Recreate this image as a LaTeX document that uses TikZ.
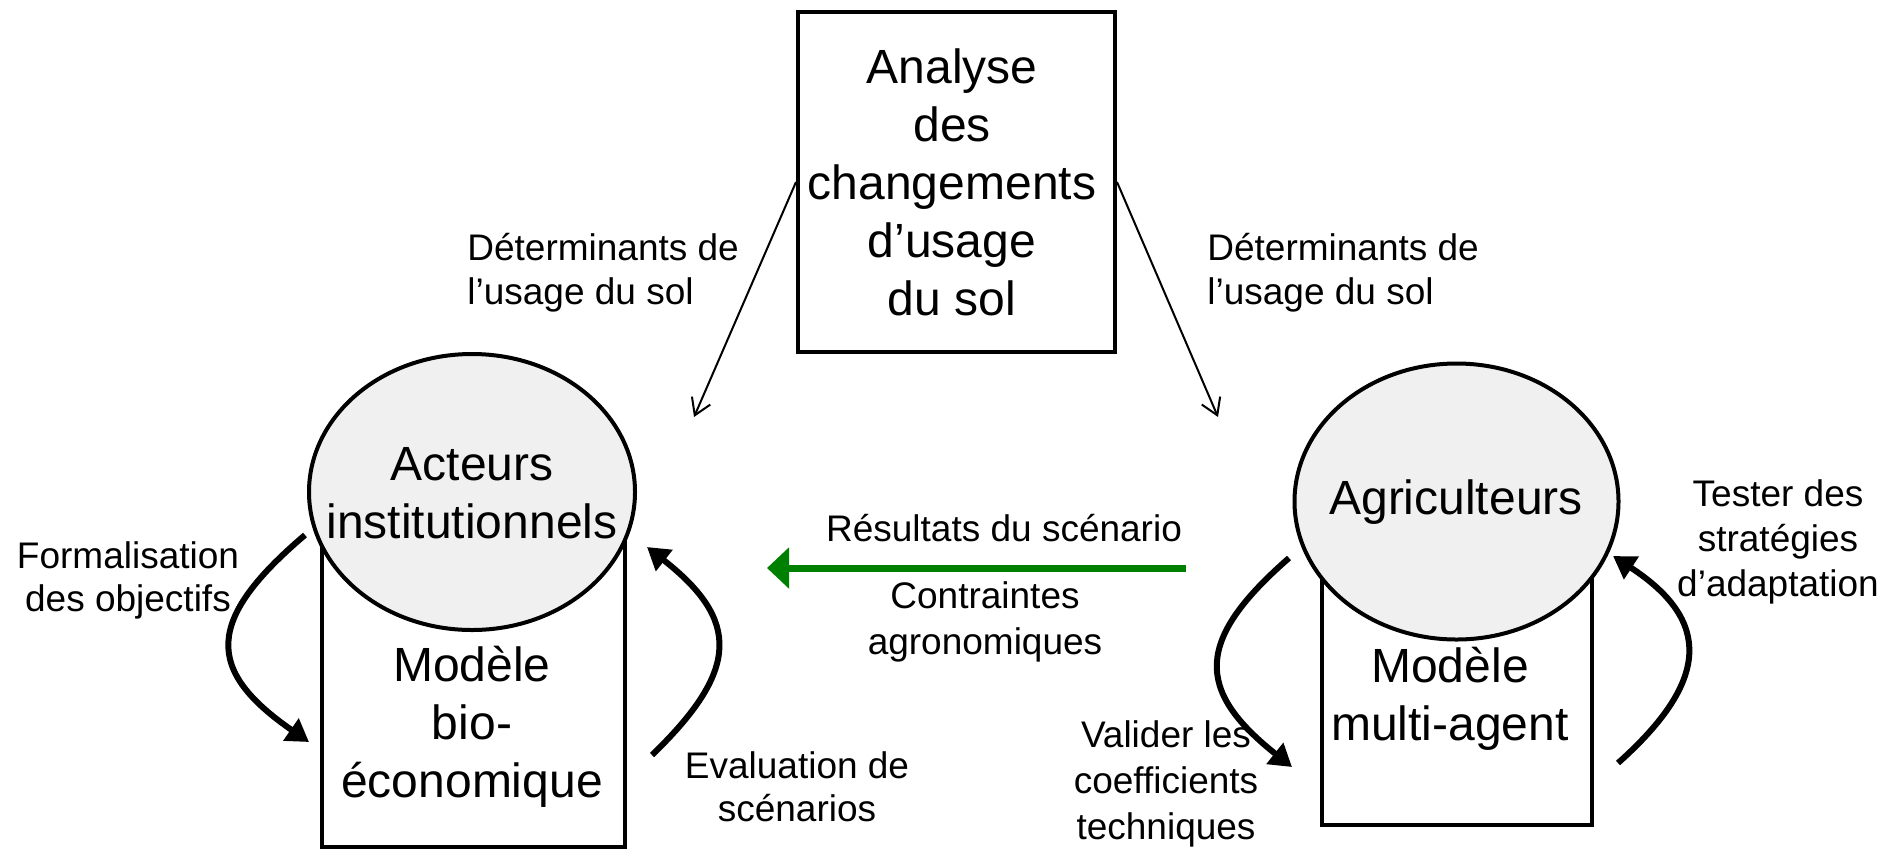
\documentclass[tikz,border=0pt]{standalone}
\usepackage{fontspec}
\setmainfont{Liberation Sans}
\usetikzlibrary{arrows.meta,shapes.geometric}
\definecolor{actorfill}{RGB}{240,240,240}
\definecolor{flowgreen}{RGB}{0,128,0}

\begin{document}
\begin{tikzpicture}[x=0.5pt,y=-0.5pt,
  bigtxt/.style={font=\fontsize{24}{29}\selectfont, align=center, inner sep=0pt},
  smalltxt/.style={font=\fontsize{18.5}{21.75}\selectfont, align=center, inner sep=0pt},
  boxframe/.style={draw=black, line width=2pt, fill=white, inner sep=0pt},
  actor/.style={ellipse, draw=black, line width=2pt, fill=actorfill, inner sep=0pt},
  thinarrow/.style={line width=1pt, -{Straight Barb[length=8pt,width=10pt]}},
  cyclearrow/.style={line width=3pt, -{Triangle[length=11pt,width=13pt]}},
  greenflow/.style={draw=flowgreen, line width=3.5pt, -{Triangle[length=11pt,width=20pt]}}]

\useasboundingbox (0,0) rectangle (1899,853);

% central analysis box
\node[boxframe, minimum width=158.5pt, minimum height=170pt] (topbox) at (956.5,182) {};
\node[bigtxt] (toptxt) at (952,182) {Analyse\\des\\changements\\d’usage\\du sol};

% left group: bio-economic model under the institutional actors
\node[boxframe, minimum width=151.5pt, minimum height=153.5pt] (bioframe) at (473.5,693.5) {};
\node[actor, minimum width=163pt, minimum height=138pt] (inst) at (472,492) {};
\node[bigtxt] (insttxt) at (472,493.5) {Acteurs\\institutionnels};
\node[bigtxt] (biotxt) at (472,727) {Modèle\\bio-\\économique};

% right group: multi-agent model under the farmers
\node[boxframe, minimum width=135pt, minimum height=142.5pt] (maframe) at (1456.5,682.5) {};
\node[actor, minimum width=162pt, minimum height=138pt] (farm) at (1456.5,501.5) {};
\node[bigtxt] (farmtxt) at (1456,502) {Agriculteurs};
\node[bigtxt] (matxt) at (1450,699) {Modèle\\multi-agent};

% labels
\node[smalltxt, align=left, anchor=west] (detl) at (467,272.5) {Déterminants de\\l’usage du sol};
\node[smalltxt, align=left, anchor=west] (detr) at (1207,272.5) {Déterminants de\\l’usage du sol};
\node[smalltxt] (formtxt) at (128,580.5) {Formalisation\\des objectifs};
\node[smalltxt] (evaltxt) at (797,787) {Evaluation de\\scénarios};
\node[smalltxt, font=\fontsize{18.5}{22.5}\selectfont] (testtxt) at (1778,542) {Tester des\\stratégies\\d’adaptation};
\node[smalltxt, font=\fontsize{18.5}{23}\selectfont] (validtxt) at (1166,784) {Valider les\\coefficients\\techniques};
\node[smalltxt] (restxt) at (1004,528) {Résultats du scénario};
\node[smalltxt, font=\fontsize{18.5}{23}\selectfont] (contxt) at (985,622) {Contraintes\\agronomiques};

% free ends of the connectors
\coordinate (dl) at (694,417);
\coordinate (dr) at (1218,417);
\coordinate (fa) at (305,535);
\coordinate (fb) at (309,742);
\coordinate (ea) at (652,755);
\coordinate (eb) at (647,547);
\coordinate (va) at (1289,558);
\coordinate (vb) at (1292,767);
\coordinate (ta) at (1618,763);
\coordinate (tb) at (1613,556);
\coordinate (ga) at (1186,568);
\coordinate (gb) at (767,568);

% land-use determinants
\draw[thinarrow] (topbox.west) -- (dl);
\draw[thinarrow] (topbox.east) -- (dr);

% feedback loops
\draw[cyclearrow] (fa) .. controls (205,620) and (205,670) .. (fb);
\draw[cyclearrow] (ea) .. controls (740,670) and (740,620) .. (eb);
\draw[cyclearrow] (va) .. controls (1195,640) and (1195,690) .. (vb);
\draw[cyclearrow] (ta) .. controls (1711,680) and (1711,620) .. (tb);

% scenario results
\draw[greenflow] (ga) -- (gb);
\end{tikzpicture}
\end{document}
